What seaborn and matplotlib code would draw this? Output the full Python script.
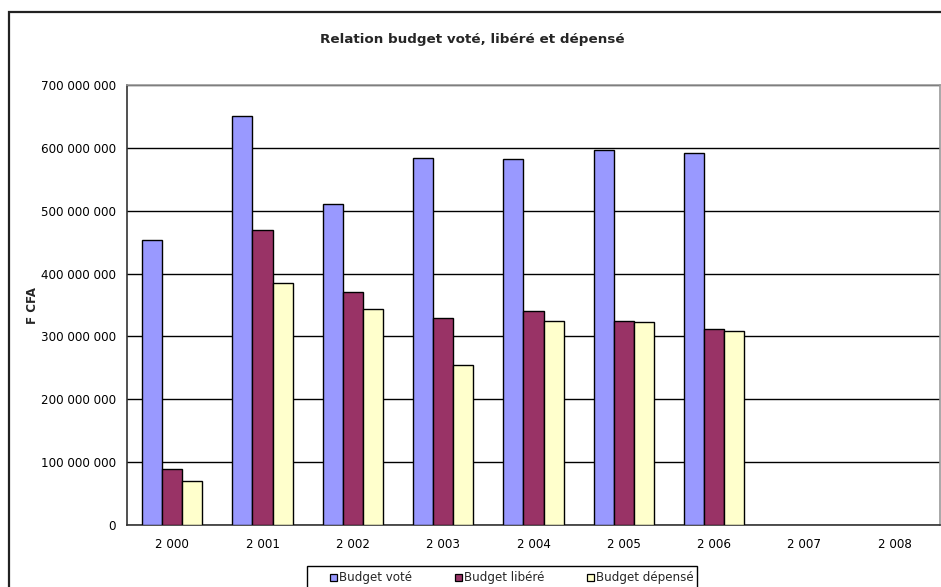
import numpy as np
import pandas as pd
import matplotlib
matplotlib.use("Agg")
import matplotlib.pyplot as plt
from matplotlib.patches import Rectangle, Patch
from matplotlib.ticker import FuncFormatter, FixedLocator, MultipleLocator
import seaborn as sns

# Budget figures (F CFA) per year
years = ["2 000", "2 001", "2 002", "2 003", "2 004", "2 005", "2 006", "2 007", "2 008"]
budget_vote = [453e6, 651e6, 511e6, 584e6, 582e6, 597e6, 592e6, np.nan, np.nan]
budget_libere = [89e6, 469e6, 371e6, 329e6, 340e6, 324e6, 312e6, np.nan, np.nan]
budget_depense = [70e6, 385e6, 344e6, 255e6, 324e6, 323e6, 308e6, np.nan, np.nan]
series_names = ["Budget voté", "Budget libéré", "Budget dépensé"]
series_colors = ["#9999FF", "#993366", "#FFFFCC"]

df = pd.DataFrame({
    "Année": years * 3,
    "Série": [s for s in series_names for _ in years],
    "Montant": budget_vote + budget_libere + budget_depense,
})

sns.set_theme(style="white")
plt.rcParams["font.family"] = ["DejaVu Sans"]

FS = 8.6
W, H = 941, 587
fig = plt.figure(figsize=(W / 100, H / 100), dpi=100)
fig.patch.set_facecolor("white")

# outer chart frame
fig.patches.append(Rectangle((9 / W, -0.05), 1.1, 1 - 12 / H + 0.05,
                             transform=fig.transFigure, fill=False,
                             edgecolor="#222222", linewidth=1.6, zorder=0))

ax = fig.add_axes([127 / W, 1 - 525 / H, (940 - 127) / W, (525 - 85) / H])
ax.set_facecolor("white")

sns.barplot(data=df, x="Année", y="Montant", hue="Série", order=years,
            hue_order=series_names, palette=series_colors, width=0.665,
            edgecolor="black", linewidth=1.0, saturation=1, ax=ax,
            legend=False, errorbar=None, zorder=3)

ax.set_xlim(-0.5, len(years) - 0.5)
ax.set_ylim(0, 700e6)
ax.yaxis.set_major_locator(MultipleLocator(100e6))
ax.yaxis.set_major_formatter(FuncFormatter(
    lambda v, p: "0" if v == 0 else f"{int(round(v)):,}".replace(",", " ")))
ax.grid(axis="y", color="black", linewidth=1.0, zorder=1)
ax.grid(axis="x", visible=False)

# category boundary ticks on the x axis
ax.xaxis.set_minor_locator(FixedLocator(np.arange(-0.5, len(years), 1.0)))
ax.tick_params(axis="x", which="major", length=0, pad=9, labelsize=FS, labelcolor="black")
ax.tick_params(axis="x", which="minor", length=5, width=1, color="#333333", direction="out")
ax.tick_params(axis="y", which="major", length=5, width=1, color="#333333",
               direction="out", labelsize=FS, pad=3, labelcolor="black")

for side in ["left", "bottom"]:
    ax.spines[side].set_color("#333333")
    ax.spines[side].set_linewidth(1.2)
for side in ["top", "right"]:
    ax.spines[side].set_color("#999999")
    ax.spines[side].set_linewidth(1.2)

ax.set_xlabel("")
ax.set_ylabel("")
fig.text(33 / W, 1 - 305 / H, "F CFA", rotation=90, ha="center", va="center",
         fontsize=FS, fontweight="bold")
fig.text(472.5 / W, 1 - 40 / H, "Relation budget voté, libéré et dépensé",
         ha="center", va="center", fontsize=9.7, fontweight="bold")

# legend box, running off the bottom edge
fig.patches.append(Rectangle((307 / W, -0.05), (697 - 307) / W, 1 - 566 / H + 0.05,
                             transform=fig.transFigure, facecolor="white",
                             edgecolor="black", linewidth=1.0, zorder=1))
handles = [Patch(facecolor=c, edgecolor="black", linewidth=0.9) for c in series_colors]
px = FS * 100 / 72
fig.legend(handles, series_names, loc="center left", ncol=3,
           bbox_to_anchor=(330 / W, 1 - 578 / H), fontsize=FS,
           frameon=False, handlelength=7 / px, handleheight=7 / px,
           handletextpad=2 / px, columnspacing=43 / px,
           borderpad=0, borderaxespad=0)

fig.savefig("out.png", dpi=100, facecolor="white")
